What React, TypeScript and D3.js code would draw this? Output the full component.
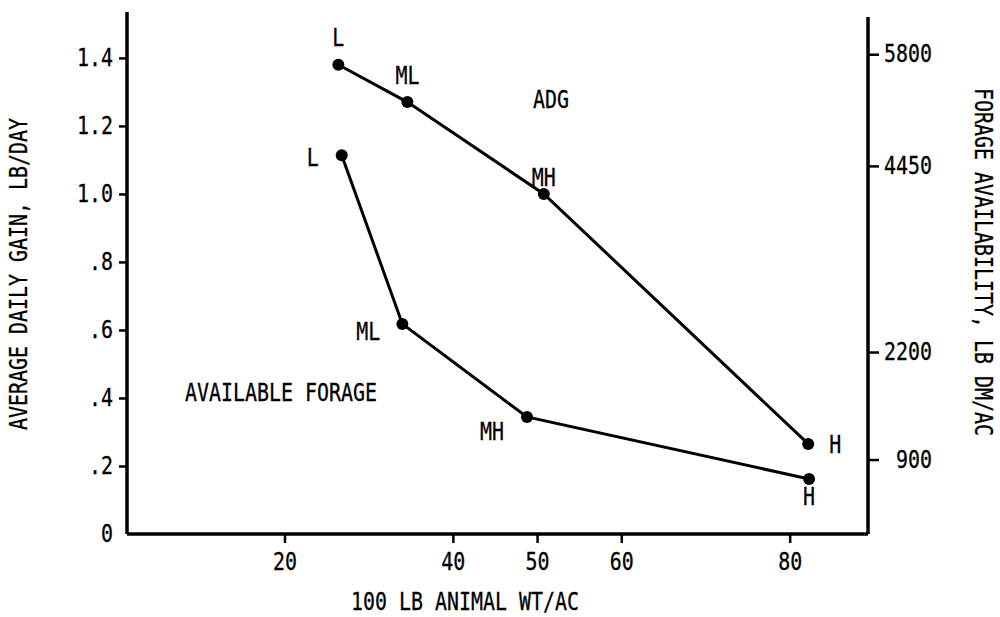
import { useEffect, useRef } from "react";
import * as d3 from "d3";

// stocking rate levels
const levels = ["L", "ML", "MH", "H"];

// 100 lb animal wt / ac
const adgWeight = [26.4, 34.6, 50.8, 82.2];
// average daily gain, lb/day
const adgValues = [1.38, 1.27, 1.0, 0.265];

const forageWeight = [26.8, 34.0, 48.8, 82.3];
// forage availability, lb DM/ac
const forageValues = [4580, 2540, 1415, 665];

const leftTicks = [0, 0.2, 0.4, 0.6, 0.8, 1.0, 1.2, 1.4];
const rightTicks = [900, 2200, 4450, 5800];
const bottomTicks = [20, 40, 50, 60, 80];

const FONT = "'DejaVu Sans Mono', monospace";
const FS = 24;
const CW = 12; // narrow typewriter look

export default function App() {
  const svgRef = useRef<SVGSVGElement>(null);
  const width = 1000;
  const height = 617;

  useEffect(() => {
    const svg = d3.select(svgRef.current);
    svg.selectAll("*").remove();

    const x = d3.scaleLinear().domain([1.3, 89.3]).range([127, 868]);
    const yL = d3.scaleLinear().domain([0, 1.535]).range([534, 12]);
    const yR = d3.scaleLinear().domain([0, 6250]).range([534, 17]);

    const squeeze = (sel: any) =>
      sel.each(function (this: SVGTextElement) {
        const t = this.textContent || "";
        if (t.length > 0) {
          d3.select(this)
            .attr("textLength", t.length * CW)
            .attr("lengthAdjust", "spacingAndGlyphs");
        }
      });

    const fmtLeft = (v: number) =>
      v === 0 ? "0" : v < 1 ? d3.format(".1f")(v).slice(1) : d3.format(".1f")(v);

    // left axis
    const gl = svg
      .append("g")
      .attr("transform", `translate(127,0)`)
      .call(
        d3
          .axisLeft(yL)
          .tickValues(leftTicks)
          .tickFormat(fmtLeft as any)
          .tickSize(8)
          .tickPadding(6)
      );
    gl.selectAll(".tick line").filter((d: any) => d === 0).remove();

    // bottom axis
    const gb = svg
      .append("g")
      .attr("transform", `translate(0,534)`)
      .call(d3.axisBottom(x).tickValues(bottomTicks).tickSize(9).tickPadding(10));

    // right axis
    const gr = svg
      .append("g")
      .attr("transform", `translate(868,0)`)
      .call(
        d3
          .axisRight(yR)
          .tickValues(rightTicks)
          .tickFormat(d3.format("d") as any)
          .tickSize(11)
      );
    gr.selectAll(".tick text").attr("text-anchor", "end").attr("x", 64);

    [gl, gb, gr].forEach((g) => {
      g.selectAll(".domain").attr("stroke", "#000").attr("stroke-width", 3.5);
      g.selectAll(".tick line").attr("stroke", "#000").attr("stroke-width", 2.5);
      g.selectAll(".tick text")
        .attr("font-family", FONT)
        .attr("font-size", FS)
        .attr("fill", "#000")
        .attr("stroke", "#000")
        .attr("stroke-width", 0.3)
        .call(squeeze);
      g.attr("font-family", null).attr("font-size", null);
    });
    // plain axis lines without end caps
    gl.select(".domain").attr("d", `M0,${yL.range()[1]}V${yL.range()[0]}`);
    gb.select(".domain").attr("d", `M${x.range()[0]},0H${x.range()[1]}`);
    gr.select(".domain").attr("d", `M0,${yR.range()[1]}V${yR.range()[0]}`);

    const line = (xs: number[], ys: number[], y: any) =>
      d3
        .line<number>()
        .x((_, i) => x(xs[i]))
        .y((_, i) => y(ys[i]))(ys);

    svg
      .append("path")
      .attr("d", line(adgWeight, adgValues, yL))
      .attr("fill", "none")
      .attr("stroke", "#000")
      .attr("stroke-width", 3);
    svg
      .append("path")
      .attr("d", line(forageWeight, forageValues, yR))
      .attr("fill", "none")
      .attr("stroke", "#000")
      .attr("stroke-width", 3);

    svg
      .selectAll(".adg-dot")
      .data(adgValues)
      .enter()
      .append("circle")
      .attr("cx", (_, i) => x(adgWeight[i]))
      .attr("cy", (d) => yL(d))
      .attr("r", 6)
      .attr("fill", "#000");
    svg
      .selectAll(".for-dot")
      .data(forageValues)
      .enter()
      .append("circle")
      .attr("cx", (_, i) => x(forageWeight[i]))
      .attr("cy", (d) => yR(d))
      .attr("r", 6)
      .attr("fill", "#000");

    // label offsets from points
    const adgOff = [
      [0, -27],
      [0, -27],
      [0, -17],
      [27, 0],
    ];
    const forOff = [
      [-29, 2],
      [-34, 7],
      [-35, 14],
      [0, 17],
    ];

    const addText = (tx: number, ty: number, t: string, rot = 0) =>
      svg
        .append("text")
        .attr("transform", `translate(${tx},${ty}) rotate(${rot})`)
        .attr("text-anchor", "middle")
        .attr("dy", "0.36em")
        .attr("font-family", FONT)
        .attr("font-size", FS)
        .attr("fill", "#000")
        .attr("stroke", "#000")
        .attr("stroke-width", 0.3)
        .text(t)
        .call(squeeze);

    levels.forEach((lv, i) => {
      addText(x(adgWeight[i]) + adgOff[i][0], yL(adgValues[i]) + adgOff[i][1], lv);
      addText(
        x(forageWeight[i]) + forOff[i][0],
        yR(forageValues[i]) + forOff[i][1],
        lv
      );
    });

    addText(551, 99, "ADG");
    addText(281, 392, "AVAILABLE FORAGE");
    addText(465, 601, "100 LB ANIMAL WT/AC");
    addText(18, 274, "AVERAGE DAILY GAIN, LB/DAY", -90);
    addText(984, 262, "FORAGE AVAILABILITY, LB DM/AC", 90);
  }, []);

  return (
    <svg
      ref={svgRef}
      width={width}
      height={height}
      style={{ position: "absolute", left: 0, top: 0, background: "#fff" }}
    ></svg>
  );
}
